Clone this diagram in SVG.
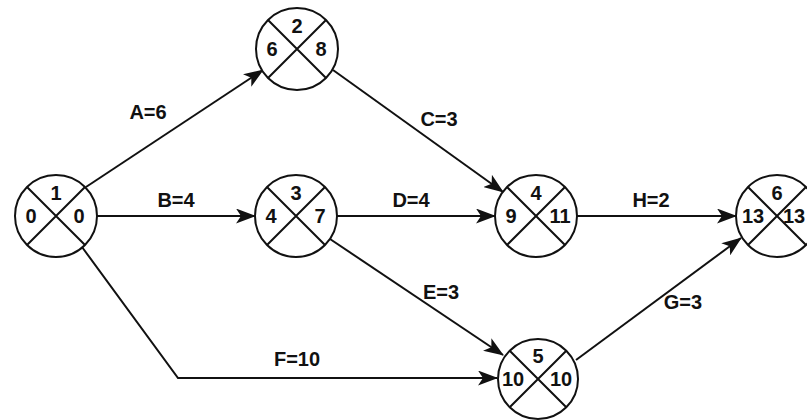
<svg xmlns="http://www.w3.org/2000/svg" width="807" height="420" viewBox="0 0 807 420">
<style>
.c{fill:#fff;stroke:#111;stroke-width:2}
.x{stroke:#111;stroke-width:2;fill:none}
.t{font-family:"Liberation Sans",Arial,sans-serif;font-weight:bold;font-size:20px;fill:#111;text-anchor:middle;dominant-baseline:central}
.e{stroke:#111;stroke-width:2;fill:none;marker-end:url(#ah)}
</style>
<defs>
<marker id="ah" viewBox="0 0 20 15" refX="19" refY="7.5" markerWidth="20" markerHeight="15" markerUnits="userSpaceOnUse" orient="auto">
<path d="M0,0 L20,7.5 L0,15 L5,7.5 Z" fill="#111"/>
</marker>
</defs>
<rect width="807" height="420" fill="#fff"/>
<g id="connectors">
<path class="e" d="M86,187 L263,70"/>
<path class="e" d="M333,70 L503,192"/>
<path class="e" d="M97,216 L255,216"/>
<path class="e" d="M337,216 L495,216"/>
<path class="e" d="M577,216 L736,216"/>
<path class="e" d="M330,239 L503,355"/>
<path class="e" d="M576,360 L741,238"/>
<path class="e" d="M82,247 L178,378 L497,378"/>
<text class="t" x="148" y="112">A=6</text>
<text class="t" x="439" y="119">C=3</text>
<text class="t" x="176" y="200">B=4</text>
<text class="t" x="411" y="200">D=4</text>
<text class="t" x="651" y="200">H=2</text>
<text class="t" x="441" y="292">E=3</text>
<text class="t" x="683" y="302">G=3</text>
<text class="t" x="297" y="359">F=10</text>
</g>
<g id="n1">
<circle class="c" cx="56" cy="216" r="41"/>
<path class="x" d="M27,187 L85,245 M85,187 L27,245"/>
<text class="t" x="56" y="193">1</text>
<text class="t" x="31" y="216">0</text>
<text class="t" x="79" y="216">0</text>
</g>
<g id="n2">
<circle class="c" cx="297" cy="49" r="41"/>
<path class="x" d="M268,20 L326,78 M326,20 L268,78"/>
<text class="t" x="297" y="26">2</text>
<text class="t" x="272" y="49">6</text>
<text class="t" x="321" y="49">8</text>
</g>
<g id="n3">
<circle class="c" cx="296" cy="216" r="41"/>
<path class="x" d="M267,187 L325,245 M325,187 L267,245"/>
<text class="t" x="296" y="193">3</text>
<text class="t" x="271" y="216">4</text>
<text class="t" x="320" y="216">7</text>
</g>
<g id="n4">
<circle class="c" cx="536" cy="216" r="41"/>
<path class="x" d="M507,187 L565,245 M565,187 L507,245"/>
<text class="t" x="536" y="193">4</text>
<text class="t" x="511" y="216">9</text>
<text class="t" x="560" y="216">11</text>
</g>
<g id="n5">
<circle class="c" cx="538" cy="379" r="40"/>
<path class="x" d="M509.7,350.7 L566.3,407.3 M566.3,350.7 L509.7,407.3"/>
<text class="t" x="538" y="356">5</text>
<text class="t" x="513" y="379">10</text>
<text class="t" x="561" y="379">10</text>
</g>
<g id="n6">
<circle class="c" cx="777" cy="216" r="41"/>
<path class="x" d="M748,187 L806,245 M806,187 L748,245"/>
<text class="t" x="777" y="193">6</text>
<text class="t" x="753" y="216">13</text>
<text class="t" x="794" y="216">13</text>
</g>
</svg>
